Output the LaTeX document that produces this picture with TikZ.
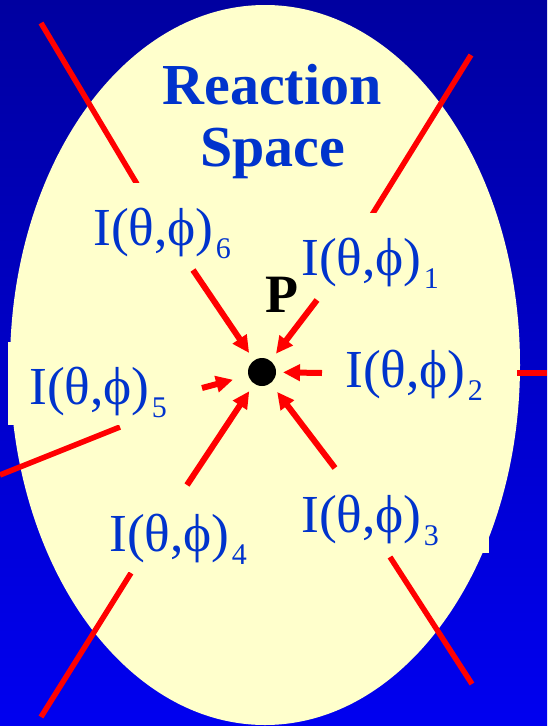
\documentclass[tikz,border=0pt]{standalone}
\usepackage{fontspec}
\setmainfont{Liberation Serif}
\usetikzlibrary{arrows.meta}
\definecolor{bgtop}{RGB}{0,0,160}
\definecolor{bgbot}{RGB}{0,0,240}
\definecolor{pale}{RGB}{255,255,204}
\definecolor{txtblue}{RGB}{0,51,204}
\definecolor{rayred}{RGB}{255,0,0}
\newcommand{\Ilab}[1]{I(θ,ϕ)\hspace{2pt}\raisebox{-13pt}{\fontsize{30}{30}\selectfont #1}}
\begin{document}
\begin{tikzpicture}[x=1pt,y=-1pt,
  lab/.style={fill=pale, text=txtblue, font=\fontsize{53.5}{60}\selectfont, anchor=base west,
    inner xsep=21pt, inner ysep=0pt, text height=62pt, text depth=21pt},
  rayline/.style={draw=rayred, line width=5.5pt},
  inarrow/.style={draw=rayred, line width=6pt, -{Triangle[length=17pt,width=16pt]}, shorten >=9pt},
  title/.style={text=txtblue, font=\fontsize{58}{60}\selectfont\bfseries, anchor=base, inner sep=0pt}]
\useasboundingbox (0,0) rectangle (547,726);
\shade[top color=bgtop, bottom color=bgbot] (0,0) rectangle (547,726);
\fill[pale] (265,365) ellipse [x radius=255, y radius=360];
% title
\node[title] (t1) at (272,104) {Reaction};
\node[title] (t2) at (273,166) {Space};
% rays
\coordinate (r6o) at (41,23);   \coordinate (r6i) at (137,184);
\coordinate (r1o) at (471,55);  \coordinate (r1i) at (370,218);
\coordinate (r2o) at (547,373); \coordinate (r2i) at (517,373);
\coordinate (r5o) at (0,475);   \coordinate (r5i) at (120,427);
\coordinate (r4o) at (41,717);  \coordinate (r4i) at (131,573);
\coordinate (r3o) at (472,684); \coordinate (r3i) at (390,557);
\draw[rayline] (r6o) -- (r6i);
\draw[rayline] (r1o) -- (r1i);
\draw[rayline] (r2o) -- (r2i);
\draw[rayline] (r5o) -- (r5i);
\draw[rayline] (r4o) -- (r4i);
\draw[rayline] (r3o) -- (r3i);
% labels
\node[lab] (lab6) at (72,245) {\Ilab{6}};
\node[lab] (lab1) at (280,275) {\Ilab{1}};
\node[lab] (lab2) at (324,387) {\Ilab{2}};
\node[lab] (lab5) at (8,404) {\Ilab{5}};
\node[lab, text width=167pt, align=left] (lab3) at (280,532) {\Ilab{3}};
\node[lab] (lab4) at (88,551) {\Ilab{4}};
% point
\node[circle, fill=black, minimum size=28pt, inner sep=0pt, outer sep=0pt] (dot) at (262,372) {};
\node[font=\fontsize{54}{60}\selectfont\bfseries, anchor=base west, inner sep=0pt] (plab) at (265,312) {P};
% arrows
\coordinate (a6) at (193,270);
\coordinate (a1) at (317,300);
\coordinate (a2) at (322,373);
\coordinate (a5) at (202,388);
\coordinate (a4) at (187,485);
\coordinate (a3) at (335,468);
\draw[inarrow] (a6) -- (dot);
\draw[inarrow] (a1) -- (dot);
\draw[inarrow, shorten >=7pt] (a2) -- (dot);
\draw[inarrow, shorten >=16pt] (a5) -- (dot);
\draw[inarrow] (a4) -- (dot);
\draw[inarrow, shorten >=11pt] (a3) -- (dot);
\end{tikzpicture}
\end{document}
